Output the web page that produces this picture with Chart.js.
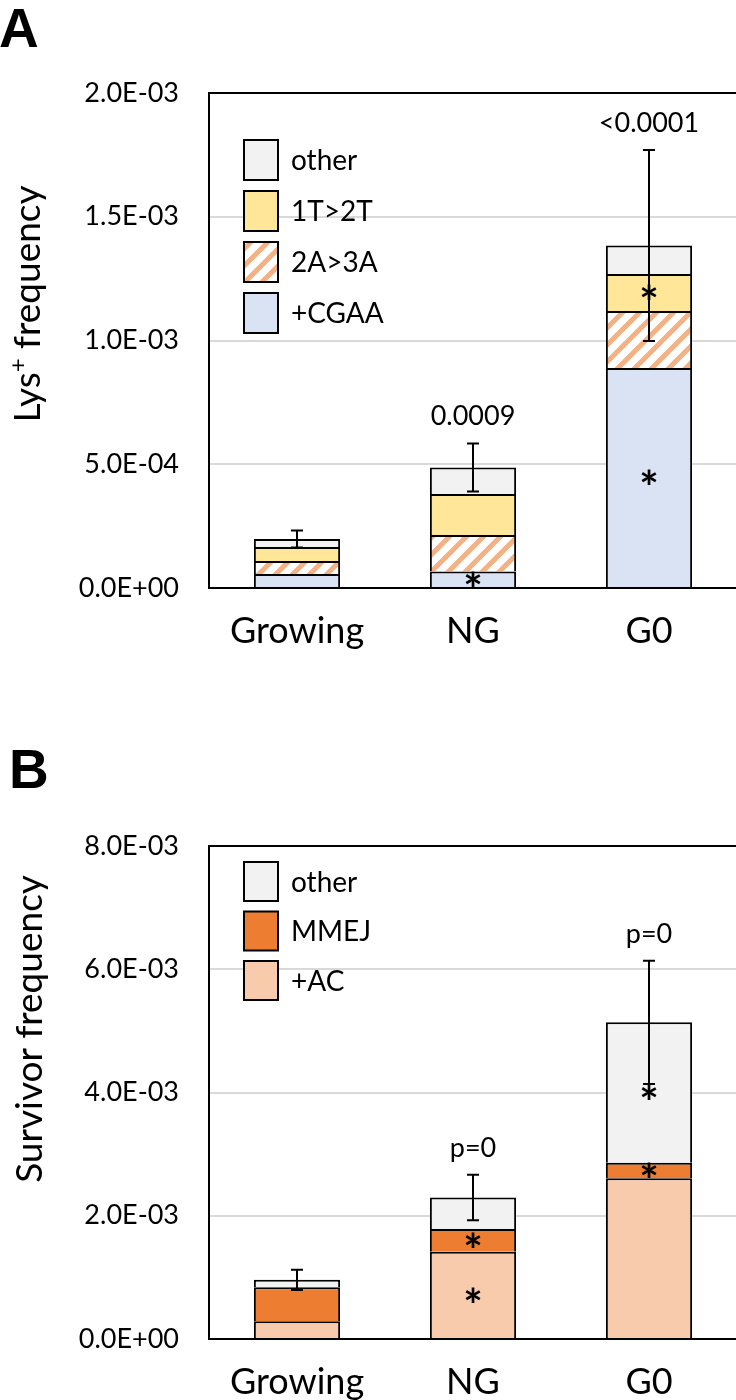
<!DOCTYPE html>
<html>
<head>
<meta charset="utf-8">
<script src="https://cdn.jsdelivr.net/npm/chart.js@4.4.0/dist/chart.umd.min.js"></script>
<style>
  html, body { margin: 0; padding: 0; background: #fff; overflow: hidden; width: 736px; height: 1400px; }
  canvas { position: absolute; left: 0; }
  .letter { position: absolute; z-index: 2; font-family: "Liberation Sans", Arial, sans-serif; font-weight: bold; font-size: 55px; line-height: 1; }
</style>
</head>
<body>
<canvas id="chartA" width="738" height="660" style="top:0"></canvas>
<canvas id="chartB" width="738" height="700" style="top:700px"></canvas>
<div class="letter" style="left:-1px;top:1px">A</div>
<div class="letter" style="left:9px;top:742px">B</div>
<script>
// categories
const categories = ["Growing", "NG", "G0"];

// panel A: Lys+ frequency, stacked from the bottom
const cgaaA = [5.7e-5, 6.7e-5, 8.89e-4];
const a2a3A = [5.2e-5, 1.47e-4, 2.30e-4];
const t1t2A = [5.7e-5, 1.66e-4, 1.50e-4];
const otherA = [3.2e-5, 1.07e-4, 1.15e-4];
const errA = [3.4e-5, 9.7e-5, 3.86e-4];
const pA = ["", "0.0009", "<0.0001"];
const starsA = [[], [0], [0, 2]]; // dataset index of the segments marked *
const yTicksA = [0, 5e-4, 1e-3, 1.5e-3, 2e-3];

// panel B: survivor frequency
const acB = [2.9e-4, 1.415e-3, 2.61e-3];
const mmejB = [5.5e-4, 3.68e-4, 2.52e-4];
const otherB = [1.2e-4, 5.12e-4, 2.277e-3];
const errB = [1.65e-4, 3.7e-4, 1.0e-3];
const pB = ["", "p=0", "p=0"];
const starsB = [[], [0, 1], [1, 2]];
const yTicksB = [0, 2e-3, 4e-3, 6e-3, 8e-3];

const FONT = "Lato";

function sci(v) {
  const parts = v.toExponential(1).split("e");
  const n = parseInt(parts[1], 10);
  return parts[0] + "E" + (n < 0 ? "-" : "+") + String(Math.abs(n)).padStart(2, "0");
}

// orange "/" stripes on white
function hatch() {
  const s = 17;
  const c = document.createElement("canvas");
  c.width = s; c.height = s;
  const g = c.getContext("2d");
  g.fillStyle = "#fff";
  g.fillRect(0, 0, s, s);
  g.strokeStyle = "#F4B183";
  g.lineWidth = 5;
  g.beginPath();
  g.moveTo(-2, s + 2); g.lineTo(s + 2, -2);
  g.moveTo(-2, 2); g.lineTo(2, -2);
  g.moveTo(s - 2, s + 2); g.lineTo(s + 2, s - 2);
  g.stroke();
  return g.createPattern(c, "repeat");
}

function bar(label, data, color) {
  return {
    label: label,
    data: data,
    backgroundColor: color,
    borderColor: "#000",
    borderWidth: { top: 2, left: 2, right: 2, bottom: 0 },
    borderSkipped: false,
    categoryPercentage: 1,
    barPercentage: 0.49,
  };
}

const extras = {
  id: "extras",
  afterDatasetsDraw(chart, args, o) {
    const ctx = chart.ctx;
    const ca = chart.chartArea;
    const ys = chart.scales.y;
    ctx.save();
    // frame
    ctx.strokeStyle = "#000";
    ctx.lineWidth = 2;
    ctx.beginPath();
    ctx.moveTo(ca.left, ca.bottom);
    ctx.lineTo(ca.left, ca.top);
    ctx.lineTo(ca.right, ca.top);
    ctx.moveTo(ca.left - 1, ca.bottom);
    ctx.lineTo(ca.right, ca.bottom);
    ctx.stroke();

    // error bars, p values, stars
    const meta0 = chart.getDatasetMeta(0);
    chart.data.labels.forEach((lab, i) => {
      const total = chart.data.datasets.reduce((s, d) => s + d.data[i], 0);
      const x = meta0.data[i].x;
      const yt = ys.getPixelForValue(total + o.err[i]);
      const yb = ys.getPixelForValue(total - o.err[i]);
      ctx.strokeStyle = "#000";
      ctx.lineWidth = 2;
      ctx.beginPath();
      ctx.moveTo(x, yt); ctx.lineTo(x, yb);
      ctx.moveTo(x - 6, yt); ctx.lineTo(x + 6, yt);
      ctx.moveTo(x - 6, yb); ctx.lineTo(x + 6, yb);
      ctx.stroke();

      ctx.fillStyle = "#000";
      if (o.p[i]) {
        ctx.font = "27px " + FONT;
        ctx.textAlign = "center";
        ctx.textBaseline = "alphabetic";
        ctx.fillText(o.p[i], x, yt - 18);
      }
      ctx.font = "bold 46px " + FONT;
      ctx.textAlign = "center";
      ctx.textBaseline = "alphabetic";
      const m = ctx.measureText("*");
      o.stars[i].forEach((di) => {
        const el = chart.getDatasetMeta(di).data[i];
        const yc = (el.y + el.base) / 2;
        const base = yc - (m.actualBoundingBoxDescent - m.actualBoundingBoxAscent) / 2;
        ctx.fillText("*", x, base);
      });
    });

    // legend, top entry is the top segment
    const lg = o.legend;
    const list = chart.data.datasets.slice().reverse();
    list.forEach((ds, i) => {
      const x = ca.left + lg.x;
      const y = ca.top + lg.y + i * lg.step;
      ctx.fillStyle = ds.backgroundColor;
      ctx.fillRect(x, y, lg.w, lg.h);
      ctx.strokeStyle = "#000";
      ctx.lineWidth = 2;
      ctx.strokeRect(x, y, lg.w, lg.h);
      ctx.fillStyle = "#000";
      ctx.font = "28px " + FONT;
      ctx.textAlign = "left";
      ctx.textBaseline = "middle";
      ctx.fillText(ds.label, x + lg.w + 13, y + lg.h / 2 + 1);
    });

    // rotated y title, parts allow the superscript
    const t = o.title;
    ctx.translate(t.x, t.y);
    ctx.rotate(-Math.PI / 2);
    ctx.textAlign = "left";
    ctx.textBaseline = "alphabetic";
    let total = 0;
    t.parts.forEach((p) => { ctx.font = p[1] + "px " + FONT; total += ctx.measureText(p[0]).width; });
    let cx = -total / 2;
    t.parts.forEach((p) => {
      ctx.font = p[1] + "px " + FONT;
      ctx.fillText(p[0], cx, -p[2]);
      cx += ctx.measureText(p[0]).width;
    });
    ctx.restore();
  },
};

function makeChart(id, datasets, ticks, max, xHeight, padTop, o) {
  return new Chart(document.getElementById(id), {
    type: "bar",
    data: { labels: categories, datasets: datasets },
    options: {
      responsive: false,
      animation: false,
      devicePixelRatio: 1,
      layout: { padding: { top: padTop, right: 1, left: 0, bottom: 0 } },
      scales: {
        x: {
          stacked: true,
          grid: { display: false },
          border: { display: false },
          ticks: { color: "#000", font: { family: FONT, size: 36 }, padding: 14, maxRotation: 0 },
          afterFit: (s) => { s.height = xHeight; },
        },
        y: {
          stacked: true,
          min: 0,
          max: max,
          grid: { color: "#D9D9D9", lineWidth: 2, drawTicks: false },
          border: { display: false },
          ticks: { color: "#000", font: { family: FONT, size: 27 }, padding: 30, callback: (v) => sci(v) },
          afterBuildTicks: (s) => { s.ticks = ticks.map((v) => ({ value: v })); },
          afterFit: (s) => { s.width = 209; },
        },
      },
      plugins: { legend: { display: false }, tooltip: { enabled: false }, extras: o },
    },
    plugins: [extras],
  });
}

Promise.all([
  document.fonts.load("27px Lato"),
  document.fonts.load("bold 46px Lato"),
]).catch(() => {}).then(() => {
  const stripes = hatch();
  makeChart("chartA", [
    bar("+CGAA", cgaaA, "#DAE3F3"),
    bar("2A>3A", a2a3A, stripes),
    bar("1T>2T", t1t2A, "#FFE699"),
    bar("other", otherA, "#F2F2F2"),
  ], yTicksA, 2e-3, 72, 93, {
    err: errA, p: pA, stars: starsA,
    legend: { x: 35, y: 47, step: 51, w: 34, h: 40 },
    title: { x: 40, y: 304, parts: [["Lys", 37, 0], ["+", 24, 14], [" frequency", 37, 0]] },
  });
  makeChart("chartB", [
    bar("+AC", acB, "#F8CBAD"),
    bar("MMEJ", mmejB, "#ED7D31"),
    bar("other", otherB, "#F2F2F2"),
  ], yTicksB, 8e-3, 61, 146, {
    err: errB, p: pB, stars: starsB,
    legend: { x: 35, y: 16, step: 49.5, w: 34, h: 39 },
    title: { x: 42, y: 329, parts: [["Survivor frequency", 37, 0]] },
  });
});
</script>
</body>
</html>
